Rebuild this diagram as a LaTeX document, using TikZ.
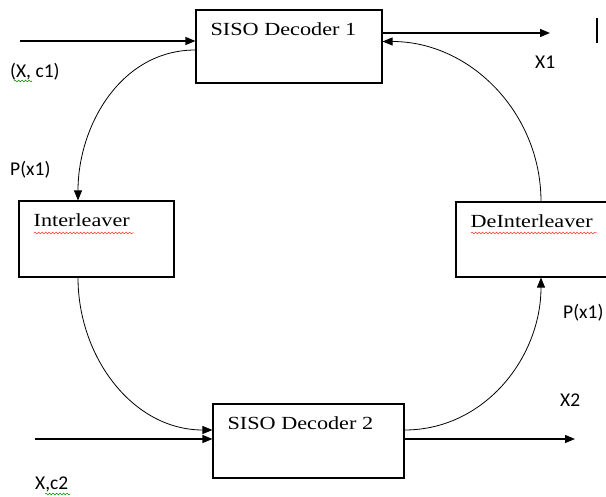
\documentclass[tikz,border=0pt]{standalone}
\usepackage{fontspec}
\setmainfont{Liberation Serif}
\newfontfamily\boxfont{Liberation Serif}[FakeStretch=1.2]
\newfontfamily\labfont{Carlito}
\usetikzlibrary{arrows.meta,decorations.pathmorphing}
\tikzset{
  block/.style={draw, line width=1.1pt, inner sep=0pt},
  blocktext/.style={anchor=north west, inner sep=0pt, xshift=15pt, yshift=-13pt,
    font=\boxfont\fontsize{18.5}{22}\selectfont},
  lab/.style={anchor=west, inner sep=0pt, font=\labfont\fontsize{19.5}{23}\selectfont},
  sig/.style={line width=1.3pt, -{Triangle[length=10pt,width=8pt]}},
  loop/.style={line width=0.8pt, -{Triangle[length=10pt,width=8pt]}},
  spell/.style={line width=0.5pt, decorate, decoration={snake, amplitude=0.9pt, segment length=3.5pt}}
}
\begin{document}
\begin{tikzpicture}[x=1pt,y=-1pt]
      \useasboundingbox (0,0) rectangle (606,497);
      % blocks
      \node[block, minimum width=186pt, minimum height=73pt,
        label={[blocktext]north west:SISO Decoder 1}] (dec1) at (289,46.5) {};
      \node[block, minimum width=155pt, minimum height=76pt,
        label={[blocktext]north west:Interleaver}] (inter) at (96.5,239) {};
      \node[block, minimum width=170pt, minimum height=75pt,
        label={[blocktext]north west:DeInterleaver}] (deint) at (541,239.5) {};
      \node[block, minimum width=191pt, minimum height=74pt,
        label={[blocktext]north west:SISO Decoder 2}] (dec2) at (308.5,441) {};
      % free ends
      \coordinate (in1) at (20,41);
      \coordinate (out1) at (550,33);
      \coordinate (in2) at (35,439);
      \coordinate (out2) at (575,439);
      \coordinate (fb1) at (382,41.5);
      \coordinate (lp1) at (196,50);
      \coordinate (lp2) at (78,277);
      \coordinate (lp3) at (213,430);
      \coordinate (lp4) at (404,430);
      % straight inputs and outputs
      \draw[sig] (in1) -- (in1 -| dec1.west);
      \draw[sig] (out1 -| dec1.east) -- (out1);
      \draw[sig] (in2) -- (in2 -| dec2.west);
      \draw[sig] (out2 -| dec2.east) -- (out2);
      % the loop
      \draw[loop] (lp1 -| dec1.west) to[out=180, in=90] (lp2 |- inter.north);
      \draw[loop] (lp2 |- inter.south) to[out=-90, in=180] (lp3 -| dec2.west);
      \draw[loop] (lp4 -| dec2.east) to[out=0, in=-90] (deint.south);
      \draw[loop] (deint.north) to[out=90, in=0] (fb1 -| dec1.east);
      % labels
      \node[lab] (lx1) at (10,72) {(X, c1)};
      \node[lab] (lp) at (10,170) {P(x1)};
      \node[lab] (lo1) at (535,62) {X1};
      \node[lab] (lpr) at (563,313) {P(x1)};
      \node[lab] (lo2) at (560,400) {X2};
      \node[lab] (lx2) at (35,484) {X,c2};
      % cursor mark
      \draw[line width=1.6pt] (597,18) -- (597,43);
      % spell check marks
      \draw[spell, red!80] (34,233) -- (134,233);
      \draw[spell, red!80] (471,233) -- (597,233);
      \draw[spell, green!55!black] (14,81) -- (32,81);
      \draw[spell, green!55!black] (45,494) -- (70,494);
    \end{tikzpicture}
\end{document}
